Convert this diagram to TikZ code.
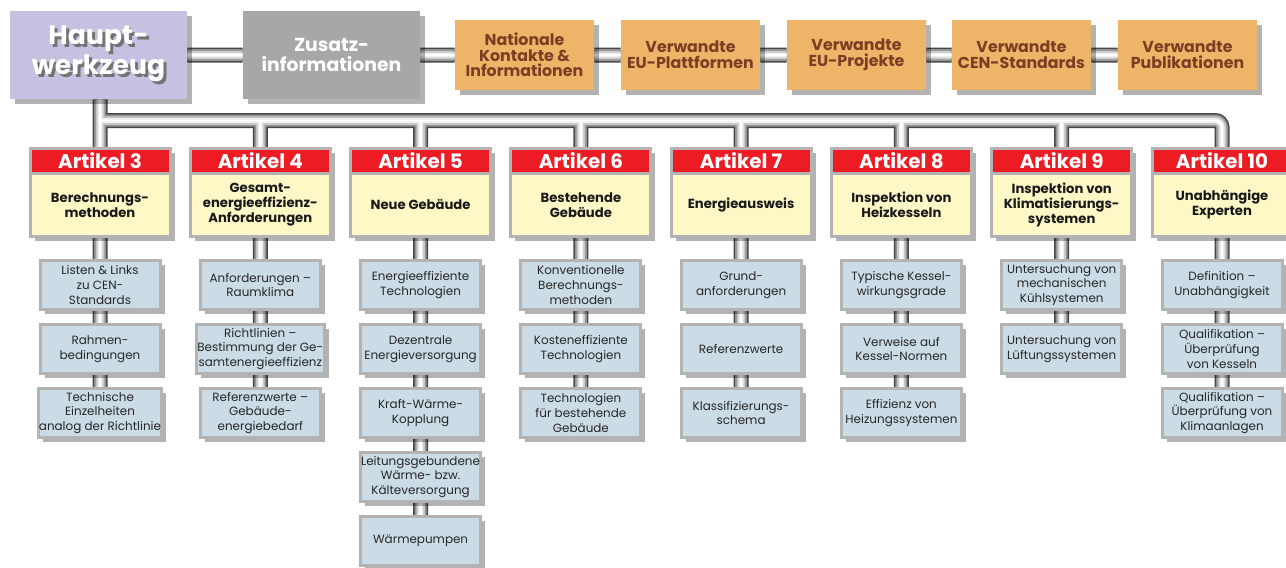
\documentclass[tikz,border=0pt]{standalone}
\usepackage{fontspec}
\setmainfont{Poppins}
\usetikzlibrary{positioning, shadows}

\definecolor{hauptlila}{HTML}{C5C2E1}
\definecolor{zusatzgrau}{HTML}{A7A7AA}
\definecolor{quellorange}{HTML}{EEB467}
\definecolor{braun}{HTML}{7A3E24}
\definecolor{artrot}{HTML}{ED1C24}
\definecolor{artgelb}{HTML}{FDF8C6}
\definecolor{subblau}{HTML}{CCDCE6}
\definecolor{randgrau}{HTML}{B3B3B3}

\newcommand{\schattentext}[1]{\makebox[0pt][l]{\hspace{0.06cm}\raisebox{-0.06cm}{\color{black!55}#1}}#1}

\pgfdeclarelayer{background}
\pgfsetlayers{background,main}

\begin{document}
\begin{tikzpicture}[
  schatten/.style={drop shadow={shadow xshift=0.09cm, shadow yshift=-0.09cm, opacity=0.3, fill=black}},
  hauptbox/.style={schatten, fill=hauptlila, minimum width=3.54cm, minimum height=1.76cm, inner sep=0pt, align=center, text=white, font=\fontsize{15.2}{17}\selectfont\bfseries},
  infobox/.style={schatten, fill=zusatzgrau, minimum width=3.54cm, minimum height=1.76cm, inner sep=0pt, align=center, text=white, font=\fontsize{10.7}{11.5}\selectfont\bfseries},
  quellbox/.style={schatten, fill=quellorange, minimum width=2.78cm, minimum height=1.4cm, inner sep=0pt, align=center, text=braun, font=\fontsize{9}{8.9}\selectfont\bfseries},
  titelbox/.style={schatten, draw=randgrau, line width=0.06cm, fill=artrot, minimum width=2.8cm, minimum height=0.49cm, inner sep=0pt, text=white, font=\fontsize{11.3}{11.3}\selectfont\bfseries},
  artbox/.style={schatten, draw=randgrau, line width=0.06cm, fill=artgelb, minimum width=2.8cm, minimum height=1.27cm, inner sep=1pt, align=center, text=black!90, font=\fontsize{7.5}{8.5}\selectfont\bfseries},
  unterbox/.style={schatten, draw=randgrau, line width=0.06cm, fill=subblau, minimum width=2.4cm, minimum height=0.98cm, inner sep=0.5pt, align=center, text=black!85, font=\fontsize{6.8}{8.4}\selectfont}
]
  \useasboundingbox (0,0) rectangle (25.72,-11.34);

  % obere Reihe
  \node[hauptbox](haupt) at (1.97,-1.10) {\schattentext{Haupt-}\\\schattentext{werkzeug}};
  \node[infobox](zusatz) at (6.63,-1.10) {Zusatz-\\informationen};
  \node[quellbox](nat) at (10.49,-1.10) {Nationale\\Kontakte \&\\Informationen};
  \node[quellbox](plat) at (13.81,-1.10) {Verwandte\\EU-Plattformen};
  \node[quellbox](proj) at (17.13,-1.10) {Verwandte\\EU-Projekte};
  \node[quellbox](cen) at (20.43,-1.10) {Verwandte\\CEN-Standards};
  \node[quellbox](publ) at (23.75,-1.10) {Verwandte\\Publikationen};

  % Artikel
  \node[titelbox](t3) at (2.00,-3.215) {Artikel 3};
  \node[artbox, below=-0.06cm of t3](a3) {Berechnungs-\\methoden};
  \node[titelbox](t4) at (5.206,-3.215) {Artikel 4};
  \node[artbox, below=-0.06cm of t4](a4) {Gesamt-\\energieeffizienz-\\Anforderungen};
  \node[titelbox](t5) at (8.412,-3.215) {Artikel 5};
  \node[artbox, below=-0.06cm of t5](a5) {Neue Gebäude};
  \node[titelbox](t6) at (11.618,-3.215) {Artikel 6};
  \node[artbox, below=-0.06cm of t6](a6) {Bestehende\\Gebäude};
  \node[titelbox](t7) at (14.822,-3.215) {Artikel 7};
  \node[artbox, below=-0.06cm of t7](a7) {Energieausweis};
  \node[titelbox](t8) at (18.028,-3.215) {Artikel 8};
  \node[artbox, below=-0.06cm of t8](a8) {Inspektion von\\Heizkesseln};
  \node[titelbox](t9) at (21.234,-3.215) {Artikel 9};
  \node[artbox, below=-0.06cm of t9](a9) {Inspektion von\\Klimatisierungs-\\systemen};
  \node[titelbox](t10) at (24.44,-3.215) {Artikel 10};
  \node[artbox, below=-0.06cm of t10](a10) {Unabhängige\\Experten};

  % Unterpunkte
  \node[unterbox, below=0.42cm of a3](s31) {Listen \& Links\\zu CEN-\\Standards};
  \node[unterbox, below=0.24cm of s31](s32) {Rahmen-\\bedingungen};
  \node[unterbox, below=0.24cm of s32](s33) {Technische\\Einzelheiten\\analog der Richtlinie};

  \node[unterbox, below=0.42cm of a4](s41) {Anforderungen --\\Raumklima};
  \node[unterbox, below=0.24cm of s41](s42) {Richtlinien --\\Bestimmung der Ge-\\samtenergieeffizienz};
  \node[unterbox, below=0.24cm of s42](s43) {Referenzwerte --\\Gebäude-\\energiebedarf};

  \node[unterbox, below=0.42cm of a5](s51) {Energieeffiziente\\Technologien};
  \node[unterbox, below=0.24cm of s51](s52) {Dezentrale\\Energieversorgung};
  \node[unterbox, below=0.24cm of s52](s53) {Kraft-Wärme-\\Kopplung};
  \node[unterbox, below=0.24cm of s53](s54) {Leitungsgebundene\\Wärme- bzw.\\Kälteversorgung};
  \node[unterbox, below=0.24cm of s54](s55) {Wärmepumpen};

  \node[unterbox, below=0.42cm of a6](s61) {Konventionelle\\Berechnungs-\\methoden};
  \node[unterbox, below=0.24cm of s61](s62) {Kosteneffiziente\\Technologien};
  \node[unterbox, below=0.24cm of s62](s63) {Technologien\\für bestehende\\Gebäude};

  \node[unterbox, below=0.42cm of a7](s71) {Grund-\\anforderungen};
  \node[unterbox, below=0.24cm of s71](s72) {Referenzwerte};
  \node[unterbox, below=0.24cm of s72](s73) {Klassifizierungs-\\schema};

  \node[unterbox, below=0.42cm of a8](s81) {Typische Kessel-\\wirkungsgrade};
  \node[unterbox, below=0.24cm of s81](s82) {Verweise auf\\Kessel-Normen};
  \node[unterbox, below=0.24cm of s82](s83) {Effizienz von\\Heizungssystemen};

  \node[unterbox, below=0.42cm of a9](s91) {Untersuchung von\\mechanischen\\Kühlsystemen};
  \node[unterbox, below=0.24cm of s91](s92) {Untersuchung von\\Lüftungssystemen};

  \node[unterbox, below=0.42cm of a10](s101) {Definition --\\Unabhängigkeit};
  \node[unterbox, below=0.24cm of s101](s102) {Qualifikation --\\Überprüfung\\von Kesseln};
  \node[unterbox, below=0.24cm of s102](s103) {Qualifikation --\\Überprüfung von\\Klimaanlagen};

  \coordinate (hub) at (2.00,-2.41);

  % Rohre
  \begin{pgfonlayer}{background}
    \fill[white] (0,0) rectangle (25.72,-11.34);
    \foreach \w/\c in {0.30/black!72, 0.24/black!42, 0.17/black!22, 0.10/black!7, 0.04/white} {
      \draw[line width=\w cm, draw=\c, rounded corners=4pt]
        (haupt) -- (zusatz) -- (nat) -- (plat) -- (proj) -- (cen) -- (publ)
        (haupt.south -| t3.north) -- (t3.north)
        (hub) -| (t10.north)
        (hub -| t4.north) -- (t4.north)
        (hub -| t5.north) -- (t5.north)
        (hub -| t6.north) -- (t6.north)
        (hub -| t7.north) -- (t7.north)
        (hub -| t8.north) -- (t8.north)
        (hub -| t9.north) -- (t9.north)
        (a3) -- (s31) -- (s32) -- (s33)
        (a4) -- (s41) -- (s42) -- (s43)
        (a5) -- (s51) -- (s52) -- (s53) -- (s54) -- (s55)
        (a6) -- (s61) -- (s62) -- (s63)
        (a7) -- (s71) -- (s72) -- (s73)
        (a8) -- (s81) -- (s82) -- (s83)
        (a9) -- (s91) -- (s92)
        (a10) -- (s101) -- (s102) -- (s103);
    }
  \end{pgfonlayer}
\end{tikzpicture}
\end{document}
